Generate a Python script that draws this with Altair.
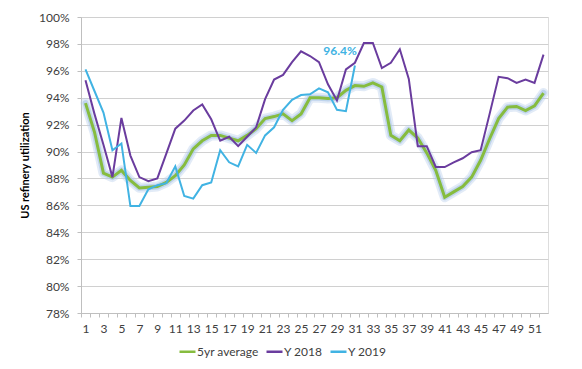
import altair as alt
import pandas as pd

weeks = list(range(1, 53))
avg5 = [93.6, 91.45, 88.4, 88.1, 88.6, 87.85, 87.3, 87.35, 87.4, 87.7,
        88.2, 89.0, 90.2, 90.8, 91.2, 91.2, 91.0, 90.8, 91.2, 91.7,
        92.45, 92.6, 92.8, 92.3, 92.8, 94.0, 94.0, 93.95, 94.0, 94.55,
        94.9, 94.85, 95.1, 94.8, 91.2, 90.8, 91.6, 91.0, 89.9, 88.6,
        86.6, 87.0, 87.4, 88.1, 89.35, 90.95, 92.45, 93.3, 93.35, 93.05,
        93.4, 94.35]
y2018 = [95.3, 92.8, 90.5, 88.1, 92.5, 89.7, 88.1, 87.8, 88.0, 89.85,
         91.7, 92.3, 93.05, 93.5, 92.4, 90.8, 91.1, 90.4, 91.1, 91.8,
         93.9, 95.35, 95.7, 96.65, 97.45, 97.1, 96.65, 95.0, 93.8, 96.1,
         96.6, 98.07, 98.07, 96.2, 96.6, 97.6, 95.4, 90.4, 90.4, 88.85,
         88.85, 89.2, 89.5, 89.95, 90.1, 92.8, 95.55, 95.45, 95.1, 95.35,
         95.1, 97.2]
y2019 = [96.1, 94.5, 92.9, 90.1, 90.6, 85.95, 85.95, 87.2, 87.5, 87.65,
         88.9, 86.7, 86.5, 87.5, 87.7, 90.1, 89.2, 88.9, 90.5, 89.9,
         91.2, 91.8, 93.1, 93.85, 94.2, 94.25, 94.7, 94.4, 93.1, 93.0,
         96.4]
series_names = ["5yr average", "Y 2018", "Y 2019"]
series_colors = ["#86bc3f", "#6a3c9e", "#41b3e3"]
y_ticks = list(range(78, 101, 2))

rows = []
for name, vals in zip(series_names, [avg5, y2018, y2019]):
    for w, v in zip(weeks, vals):
        rows.append({"week": w, "value": v, "series": name})
df = pd.DataFrame(rows)
df_avg = df[df.series == "5yr average"]
last2019 = pd.DataFrame([{"week": len(y2019), "value": y2019[-1],
                          "label": f"{y2019[-1]:.1f}%"}])

FONT = "Lato"

x_enc = alt.X("week:Q", scale=alt.Scale(domain=[0.5, 52.5], nice=False, zero=False),
              axis=alt.Axis(values=weeks, title=None, grid=False,
                            labelExpr="datum.value % 2 == 1 ? datum.value : ''",
                            tickOffset=-4.5, labelOffset=4.5, tickSize=4,
                            tickColor="#bfbfbf", domainColor="#bfbfbf",
                            labelColor="#404040", labelFontSize=12, labelPadding=6,
                            labelFont=FONT, labelFlush=False, labelOverlap=False))
y_enc = alt.Y("value:Q", scale=alt.Scale(domain=[78, 100], nice=False, zero=False),
              axis=alt.Axis(values=y_ticks, title="US refinery utilization",
                            labelExpr="datum.value + '%'", ticks=True, tickSize=4,
                            tickColor="#bfbfbf",
                            labelPadding=8, labelColor="#404040", labelFontSize=12,
                            labelFont=FONT, gridColor="#d0d0d0", domainColor="#bfbfbf",
                            labelOverlap=False,
                            titleFont=FONT, titleFontSize=11, titleFontWeight="bold",
                            titleColor="#000000", titleX=-51, titleY=148))

glow1 = alt.Chart(df_avg).mark_line(color="#b7cdea", strokeWidth=10, opacity=0.4,
                                    strokeJoin="round", strokeCap="round").encode(
    x=x_enc, y=y_enc, order="week:Q")
glow2 = alt.Chart(df_avg).mark_line(color="#a9c4e6", strokeWidth=6, opacity=0.6,
                                    strokeJoin="round", strokeCap="round").encode(
    x=x_enc, y=y_enc, order="week:Q")

lines = alt.Chart(df).mark_line(strokeJoin="miter").encode(
    x=x_enc, y=y_enc, order="week:Q",
    color=alt.Color("series:N",
                    scale=alt.Scale(domain=series_names, range=series_colors),
                    legend=alt.Legend(title=None, orient="none", direction="horizontal",
                                      legendX=97, legendY=325,
                                      symbolType="stroke", symbolStrokeWidth=2.5,
                                      symbolSize=256, labelFont=FONT, labelFontSize=12,
                                      labelColor="#404040", columnPadding=2,
                                      labelOffset=0)),
    strokeWidth=alt.condition(alt.datum.series == "5yr average", alt.value(3), alt.value(2)),
)

label = alt.Chart(last2019).mark_text(align="right", baseline="bottom", dx=2, dy=-7,
                                      color="#41b3e3", fontWeight="bold", fontSize=12,
                                      font=FONT).encode(
    x=x_enc, y=y_enc, text="label:N")

chart = alt.layer(glow1, glow2, lines, label).properties(
    width=467, height=296,
    autosize=alt.AutoSizeParams(type="none"),
    padding={"left": 73, "top": 9, "right": 26, "bottom": 48},
).configure_view(stroke=None).configure(background="white")

chart.save("out.html", embed_options={"renderer": "svg", "actions": False})
